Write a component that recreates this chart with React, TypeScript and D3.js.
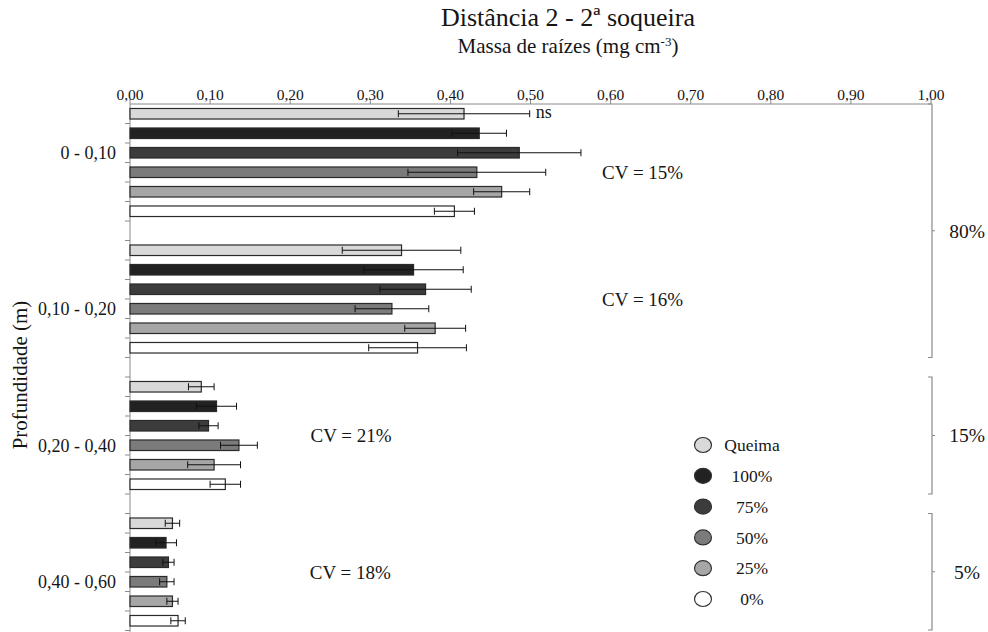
import * as d3 from "d3";

// root mass (mg cm-3) per depth layer, in treatment order
const depths = ["0 - 0,10", "0,10 - 0,20", "0,20 - 0,40", "0,40 - 0,60"];
const treatments = ["Queima", "100%", "75%", "50%", "25%", "0%"];
const colors = ["#d9d9d9", "#222222", "#3c3c3c", "#7b7b7b", "#a6a6a6", "#ffffff"];

const mean0_10 = [0.417, 0.436, 0.486, 0.433, 0.464, 0.405];
const err0_10 = [0.082, 0.034, 0.077, 0.086, 0.035, 0.025];
const mean10_20 = [0.339, 0.354, 0.369, 0.327, 0.381, 0.359];
const err10_20 = [0.074, 0.062, 0.057, 0.046, 0.038, 0.061];
const mean20_40 = [0.089, 0.108, 0.098, 0.136, 0.105, 0.119];
const err20_40 = [0.016, 0.025, 0.012, 0.023, 0.033, 0.019];
const mean40_60 = [0.053, 0.045, 0.048, 0.046, 0.053, 0.06];
const err40_60 = [0.009, 0.013, 0.007, 0.009, 0.007, 0.009];

const cvLabels = ["CV = 15%", "CV = 16%", "CV = 21%", "CV = 18%"];
const shareLabels = ["80%", "15%", "5%"];
const shareGroups = [[0, 1], [2, 2], [3, 3]];
const xTicks = [0, 0.1, 0.2, 0.3, 0.4, 0.5, 0.6, 0.7, 0.8, 0.9, 1.0];

const means = [mean0_10, mean10_20, mean20_40, mean40_60];
const errs = [err0_10, err10_20, err20_40, err40_60];

const width = 988;
const height = 632;
const font = "'Liberation Serif', 'Times New Roman', serif";
const axisColor = "#8a8a8a";
const ink = "#151515";

const key = (g: number, t: number | string) => `${g}|${t}`;

export default function App() {
  const slots: string[] = [];
  depths.forEach((_, g) => {
    treatments.forEach((_, t) => slots.push(key(g, t)));
    if (g < depths.length - 1) slots.push(key(g, "gap"));
  });

  const x = d3.scaleLinear().domain([0, 1]).range([130, 931]);
  const y = d3.scaleBand().domain(slots).range([104, 104 + slots.length * 19.5]);
  const bw = y.bandwidth();
  const barH = bw * 0.54;
  const fmt = (v: number) => d3.format(".2f")(v).replace(".", ",");

  const groupTop = (g: number) => y(key(g, 0))!;
  const groupBottom = (g: number) => y(key(g, treatments.length - 1))! + bw;

  // which bar each depth label / CV note sits on, like the source chart
  const labelBar = [2, 3, 3, 3];
  const cvX = [0.64, 0.64, 0.276, 0.275];
  const cvBar = [3, 2.5, 2.5, 2.5];

  const bars = depths.flatMap((_, g) =>
    treatments.map((t, i) => ({ g, i, t, v: means[g][i], e: errs[g][i] }))
  );

  return (
    <svg
      width={width}
      height={height}
      style={{ position: "absolute", left: 0, top: 0, background: "#fff" }}
      fontFamily={font}
    >
      <text x={568} y={26} textAnchor="middle" fontSize={26} fill={ink}>
        Distância 2 - 2ª soqueira
      </text>
      <text x={568} y={53} textAnchor="middle" fontSize={21} fill={ink}>
        Massa de raízes (mg cm
        <tspan dy={-7} fontSize={13}>-3</tspan>
        <tspan dy={7}>)</tspan>
      </text>

      {/* top value axis */}
      <line x1={x(0)} x2={x(1)} y1={104} y2={104} stroke={axisColor} />
      {xTicks.map((d) => (
        <g key={d}>
          <line x1={x(d)} x2={x(d)} y1={104} y2={99} stroke={axisColor} />
          <text x={x(d)} y={100} textAnchor="middle" fontSize={15.5} fill={ink}>
            {fmt(d)}
          </text>
        </g>
      ))}

      {/* left category axis */}
      <line x1={130} x2={130} y1={104} y2={height} stroke={axisColor} />
      {slots.map((s) => (
        <line key={s} x1={125} x2={130} y1={y(s)! + bw} y2={y(s)! + bw} stroke={axisColor} />
      ))}
      {depths.map((d, g) => (
        <text
          key={d}
          x={116}
          y={y(key(g, labelBar[g]))! + bw / 2}
          dy="0.35em"
          textAnchor="end"
          fontSize={18}
          fill={ink}
        >
          {d}
        </text>
      ))}
      <text
        transform={`translate(27,375) rotate(-90)`}
        textAnchor="middle"
        fontSize={21}
        fill={ink}
      >
        Profundidade (m)
      </text>

      {/* bars */}
      {bars.map((b) => {
        const cy = y(key(b.g, b.i))! + bw / 2;
        return (
          <g key={`${b.g}-${b.i}`}>
            <rect
              x={x(0)}
              y={cy - barH / 2}
              width={x(b.v) - x(0)}
              height={barH}
              fill={colors[b.i]}
              stroke="#2a2a2a"
              strokeWidth={1.2}
            />
            <line x1={x(b.v - b.e)} x2={x(b.v + b.e)} y1={cy} y2={cy} stroke="#111" />
            <line x1={x(b.v - b.e)} x2={x(b.v - b.e)} y1={cy - 3.5} y2={cy + 3.5} stroke="#111" />
            <line x1={x(b.v + b.e)} x2={x(b.v + b.e)} y1={cy - 3.5} y2={cy + 3.5} stroke="#111" />
          </g>
        );
      })}

      <text
        x={x(mean0_10[0] + err0_10[0]) + 6}
        y={y(key(0, 0))! + bw / 2}
        dy="0.25em"
        fontSize={18}
        fill={ink}
      >
        ns
      </text>

      {cvLabels.map((c, g) => (
        <text
          key={c}
          x={x(cvX[g])}
          y={groupTop(g) + (cvBar[g] + 0.5) * bw}
          dy="0.35em"
          textAnchor="middle"
          fontSize={19}
          fill={ink}
        >
          {c}
        </text>
      ))}

      {/* share brackets */}
      {shareLabels.map((s, k) => {
        const top = groupTop(shareGroups[k][0]);
        const bottom = k === shareLabels.length - 1 ? height - 2 : groupBottom(shareGroups[k][1]);
        const mid = (top + bottom) / 2;
        const bx = 932;
        return (
          <g key={s}>
            <path
              d={`M${bx - 4},${top}H${bx}V${bottom}H${bx - 4}`}
              fill="none"
              stroke={axisColor}
              strokeWidth={1.2}
            />
            <line x1={bx} x2={bx + 3} y1={mid} y2={mid} stroke={axisColor} />
            <text x={967} y={mid} dy="0.35em" textAnchor="middle" fontSize={19.5} fill={ink}>
              {s}
            </text>
          </g>
        );
      })}

      {/* legend */}
      {treatments.map((t, i) => {
        const ly = d3.scaleLinear().domain([0, treatments.length - 1]).range([445, 599])(i);
        return (
          <g key={t}>
            <ellipse cx={703} cy={ly} rx={8.5} ry={7.5} fill={colors[i]} stroke="#333" strokeWidth={1.2} />
            <text x={752} y={ly} dy="0.35em" textAnchor="middle" fontSize={17.5} fill={ink}>
              {t}
            </text>
          </g>
        );
      })}
    </svg>
  );
}
